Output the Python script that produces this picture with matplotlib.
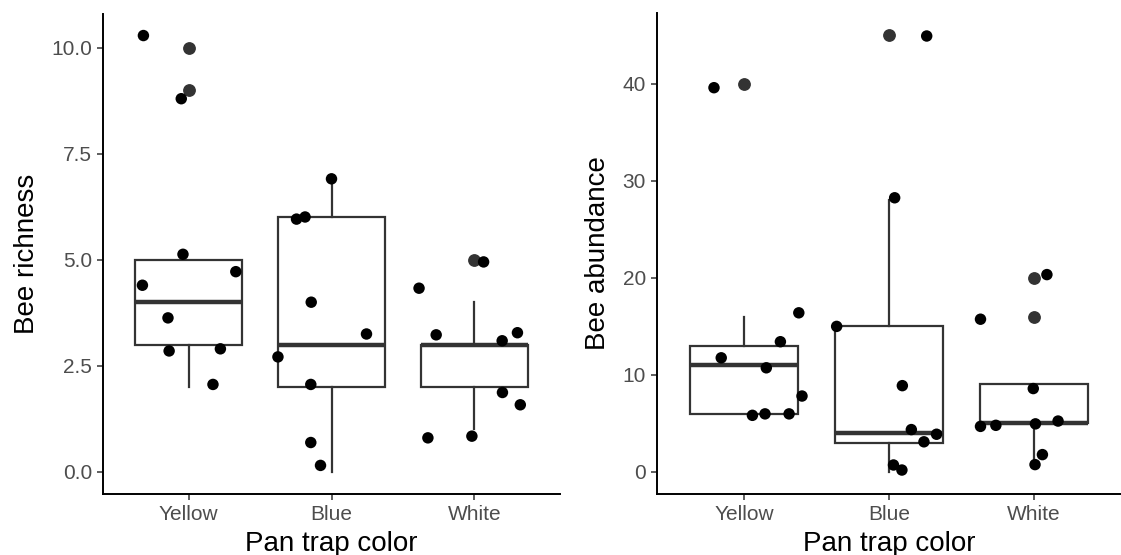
import matplotlib
matplotlib.use("Agg")
import matplotlib.pyplot as plt

plt.rcParams['font.family'] = ['Liberation Sans', 'DejaVu Sans']

categories = ["Yellow", "Blue", "White"]

# ---- Bee richness (left panel) ----
rich_q1 = [3, 2, 2]
rich_med = [4, 3, 3]
rich_q3 = [5, 6, 3]
rich_whislo = [2, 0, 1]
rich_whishi = [5, 7, 4]
rich_outliers = [[10, 9], [], [5]]
rich_pts_dx = [
    [-0.317, -0.052, -0.040, -0.324, 0.330, -0.145, -0.137, 0.222, 0.170],
    [0.000, -0.245, -0.185, -0.142, 0.245, -0.375, -0.145, -0.145, -0.077],
    [-0.387, 0.065, -0.267, 0.195, 0.302, 0.197, 0.322, -0.325, -0.017],
]
rich_pts_y = [
    [10.29, 8.80, 5.13, 4.40, 4.72, 3.63, 2.85, 2.90, 2.06],
    [6.91, 5.96, 6.01, 4.00, 3.25, 2.71, 2.06, 0.69, 0.15],
    [4.33, 4.95, 3.23, 3.09, 3.28, 1.87, 1.58, 0.80, 0.84],
]

# ---- Bee abundance (right panel) ----
abun_q1 = [6, 3, 5]
abun_med = [11, 4, 5]
abun_q3 = [13, 15, 9]
abun_whislo = [6, 0, 1]
abun_whishi = [16, 28, 9]
abun_outliers = [[40], [45], [20, 16]]
abun_pts_dx = [
    [-0.207, -0.157, 0.154, 0.251, 0.378, 0.400, 0.058, 0.145, 0.311],
    [0.260, 0.039, -0.361, 0.092, 0.154, 0.328, 0.241, 0.031, 0.089],
    [-0.369, 0.089, -0.005, -0.369, -0.263, 0.010, 0.166, 0.058, 0.007],
]
abun_pts_y = [
    [39.6, 11.75, 10.72, 13.41, 16.39, 7.81, 5.82, 5.97, 5.97],
    [44.93, 28.25, 14.99, 8.88, 4.35, 3.87, 3.09, 0.70, 0.18],
    [15.73, 20.33, 8.58, 4.68, 4.79, 4.94, 5.23, 1.77, 0.74],
]

LINE = "#333333"
W, H = 1121, 555
fig = plt.figure(figsize=(W / 100, H / 100), dpi=100)


def panel(rect, q1, med, q3, wlo, whi, outl, dx, ys, ylabel, ylim, yticks, yticklabels):
    ax = fig.add_axes(rect)
    positions = list(range(1, len(categories) + 1))
    stats = []
    for i in range(len(categories)):
        stats.append(dict(q1=q1[i], med=med[i], q3=q3[i], whislo=wlo[i], whishi=whi[i],
                          fliers=outl[i], label=categories[i]))
    ax.bxp(stats, positions=positions, widths=0.75, showcaps=False, patch_artist=True,
           boxprops=dict(facecolor="white", edgecolor=LINE, linewidth=1.6),
           whiskerprops=dict(color=LINE, linewidth=1.6),
           medianprops=dict(color=LINE, linewidth=3.2, solid_capstyle="butt"),
           flierprops=dict(marker="o", markerfacecolor=LINE, markeredgecolor=LINE,
                           markersize=8.2, linestyle="none"),
           zorder=2)
    for i, p in enumerate(positions):
        xs = [p + d for d in dx[i]]
        ax.scatter(xs, ys[i], s=68, color="black", edgecolors="none", zorder=3)
    ax.set_xlim(0.4, 3.6)
    ax.set_ylim(*ylim)
    ax.set_xticks(positions)
    ax.set_xticklabels(categories)
    ax.set_yticks(yticks)
    ax.set_yticklabels(yticklabels)
    for s in ["top", "right"]:
        ax.spines[s].set_visible(False)
    for s in ["left", "bottom"]:
        ax.spines[s].set_linewidth(1.4)
        ax.spines[s].set_color("black")
    ax.tick_params(axis="both", colors="#333333", labelcolor="#4D4D4D", labelsize=15,
                   length=4, width=1.1, pad=4)
    ax.set_xlabel("Pan trap color", fontsize=20, color="black", labelpad=5)
    ax.set_ylabel(ylabel, fontsize=20, color="black", labelpad=8)
    return ax


panel([103 / W, 1 - 493.6 / H, (560 - 103) / W, (493.6 - 13.5) / H],
      rich_q1, rich_med, rich_q3, rich_whislo, rich_whishi, rich_outliers,
      rich_pts_dx, rich_pts_y, "Bee richness", (-0.515, 10.81),
      [0, 2.5, 5, 7.5, 10], ["0.0", "2.5", "5.0", "7.5", "10.0"])

panel([657 / W, 1 - 493.6 / H, (1121 - 657) / W, (493.6 - 13.5) / H],
      abun_q1, abun_med, abun_q3, abun_whislo, abun_whishi, abun_outliers,
      abun_pts_dx, abun_pts_y, "Bee abundance", (-2.25, 47.25),
      [0, 10, 20, 30, 40], ["0", "10", "20", "30", "40"])

fig.savefig("out.png", dpi=100, facecolor="white")
